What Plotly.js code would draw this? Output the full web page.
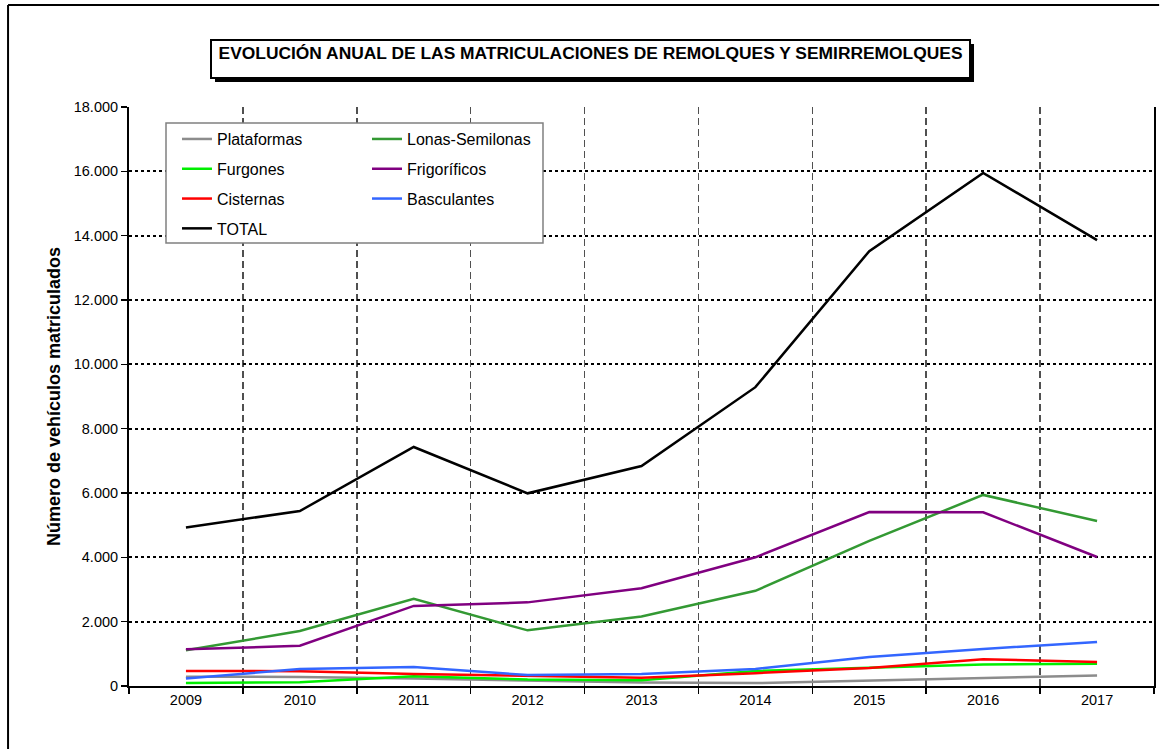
<!DOCTYPE html>
<html>
<head>
<meta charset="utf-8">
<script src="https://cdn.plot.ly/plotly-3.0.1.min.js"></script>
<style>html,body{margin:0;padding:0;background:#fff;overflow:hidden;}#chart{width:1171px;height:749px;}</style>
</head>
<body>
<div id="chart"></div>
<script>
const years = ["2009","2010","2011","2012","2013","2014","2015","2016","2017"];
const plataformas  = [290, 280, 230, 170, 110, 90, 170, 230, 330];
const lonas        = [1110, 1710, 2710, 1730, 2160, 2960, 4510, 5940, 5130];
const furgones     = [90, 120, 300, 200, 180, 470, 570, 670, 690];
const frigorificos = [1140, 1250, 2490, 2600, 3040, 4000, 5410, 5400, 4010];
const cisternas    = [470, 460, 370, 310, 260, 400, 560, 830, 750];
const basculantes  = [230, 530, 590, 340, 370, 530, 900, 1150, 1370];
const total        = [4930, 5440, 7430, 5990, 6840, 9290, 13520, 15950, 13860];

const FONT = "Arial, 'Liberation Sans', sans-serif";

function tr(name, y, color, legend) {
  return {
    type: 'scatter', mode: 'lines', name: name, x: years, y: y,
    line: {color: color, width: 2.5},
    legend: legend, legendgroup: name, hoverinfo: 'x+y+name'
  };
}

const data = [
  tr('Plataformas', plataformas, '#8c8c8c', 'legend'),
  tr('Lonas-Semilonas', lonas, '#339933', 'legend2'),
  tr('Furgones', furgones, '#00ee00', 'legend'),
  tr('Frigoríficos', frigorificos, '#800080', 'legend2'),
  tr('Cisternas', cisternas, '#ff0000', 'legend'),
  tr('Basculantes', basculantes, '#3366ff', 'legend2'),
  tr('TOTAL', total, '#000000', 'legend')
];

const legendCommon = {
  orientation: 'v', traceorder: 'grouped', tracegroupgap: 6,
  bgcolor: 'rgba(0,0,0,0)', borderwidth: 0,
  font: {family: FONT, size: 16, color: '#000'},
  xanchor: 'left', yanchor: 'top', itemclick: false
};

const layout = {
  width: 1171, height: 749,
  margin: {l: 129, r: 17, t: 107, b: 63},
  paper_bgcolor: '#fff', plot_bgcolor: '#fff',
  separators: ',.',
  font: {family: FONT, color: '#000'},
  title: {
    text: '<b>EVOLUCIÓN ANUAL DE LAS MATRICULACIONES DE REMOLQUES Y SEMIRREMOLQUES</b>',
    font: {family: FONT, size: 17.4, color: '#000'},
    x: 0.5043, xref: 'container', xanchor: 'center',
    y: 0.9299, yref: 'container', yanchor: 'middle'
  },
  xaxis: {
    type: 'category',
    range: [-0.5, 8.5], autorange: false,
    tickson: 'boundaries',
    ticks: 'outside', ticklen: 6, tickwidth: 1.5, tickcolor: '#000',
    showline: true, linecolor: '#000', linewidth: 2,
    showgrid: true, gridcolor: '#505050', gridwidth: 1.5, griddash: '7px,4px',
    tickfont: {family: FONT, size: 14.5, color: '#000'},
    zeroline: false, fixedrange: true
  },
  yaxis: {
    range: [0, 18000], autorange: false, dtick: 2000, tick0: 0, tickformat: ',d',
    ticks: 'outside', ticklen: 6, tickwidth: 1.5, tickcolor: '#000',
    showline: true, linecolor: '#000', linewidth: 2, mirror: true,
    showgrid: true, gridcolor: '#000', gridwidth: 2, griddash: 'dot',
    zeroline: false,
    tickfont: {family: FONT, size: 14.5, color: '#000'},
    title: {text: '<b>Número de vehículos matriculados</b>', font: {family: FONT, size: 18, color: '#000'}, standoff: 8},
    fixedrange: true
  },
  legend: Object.assign({}, legendCommon, {x: 0.0468, y: 0.974}),
  legend2: Object.assign({}, legendCommon, {x: 0.2322, y: 0.974}),
  showlegend: true,
  shapes: [
    // outer chart frame: left and top edges (right/bottom lie outside the picture)
    {type: 'line', xref: 'paper', yref: 'paper', x0: -0.118, x1: -0.118, y0: -0.115, y1: 1.1762,
     line: {color: '#000', width: 2}, layer: 'below'},
    {type: 'line', xref: 'paper', yref: 'paper', x0: -0.118, x1: 1.005, y0: 1.1762, y1: 1.1762,
     line: {color: '#000', width: 2}, layer: 'below'},
    // title shadow
    {type: 'rect', xref: 'paper', yref: 'paper', x0: 0.0839, x1: 0.8244, y0: 1.0432, y1: 1.1088,
     line: {width: 0}, fillcolor: '#000', layer: 'above'},
    // title box
    {type: 'rect', xref: 'paper', yref: 'paper', x0: 0.0800, x1: 0.8205, y0: 1.0501, y1: 1.1157,
     line: {color: '#000', width: 2}, fillcolor: '#fff', layer: 'above'},
    // legend box
    {type: 'rect', xref: 'paper', yref: 'paper', x0: 0.0361, x1: 0.4039, y0: 0.7651, y1: 0.9724,
     line: {color: '#808080', width: 1.5}, fillcolor: '#fff', layer: 'above'}
  ]
};

Plotly.newPlot('chart', data, layout, {displayModeBar: false, staticPlot: true});
</script>
</body>
</html>
